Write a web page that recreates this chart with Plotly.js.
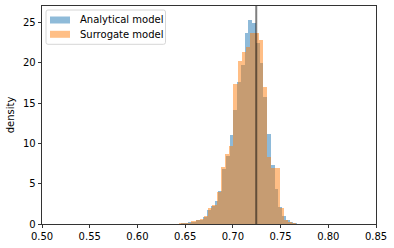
<!DOCTYPE html>
<html>
<head>
<meta charset="utf-8">
<script src="https://cdn.plot.ly/plotly-3.0.1.min.js"></script>
<style>html,body{margin:0;padding:0;background:#fff;}#chart{width:394px;height:248px;}</style>
</head>
<body>
<div id="chart"></div>
<script>
// Histogram bins (density)
const analyticalStart = 0.6455;      // left edge of first bin
const analyticalBinWidth = 0.00393;
const analyticalDensity = [0.1, 0.15, 0.2, 0.3, 0.45, 0.55, 0.9, 1.7, 2.2, 2.85,
  4.1, 6.8, 8.5, 11.1, 14.2, 17.6, 19.8, 23.7, 25.3, 24.9,
  22.5, 20.0, 15.8, 11.2, 7.3, 4.3, 2.15, 1.0, 0.45, 0.2, 0.1];

const surrogateStart = 0.64335;
const surrogateBinWidth = 0.0044;
const surrogateDensity = [0.12, 0.15, 0.17, 0.37, 0.5, 0.62, 1.0, 1.95, 2.4, 4.0,
  7.1, 8.7, 9.7, 17.4, 20.2, 21.3, 22.0, 23.7, 23.7, 22.9,
  17.0, 8.3, 6.9, 6.9, 2.0, 0.5, 0.3, 0.15];

const referenceValue = 0.7245;
const seriesNames = ['Analytical model', 'Surrogate model'];
const seriesColors = ['#1f77b4', '#ff7f0e'];
const xTicks = [0.50, 0.55, 0.60, 0.65, 0.70, 0.75, 0.80, 0.85];
const yTicks = [0, 5, 10, 15, 20, 25];

function centers(start, w, n) {
  const c = [];
  for (let i = 0; i < n; i++) c.push(start + w * (i + 0.5));
  return c;
}

const traces = [
  {
    type: 'bar', name: seriesNames[0],
    x: centers(analyticalStart, analyticalBinWidth, analyticalDensity.length),
    y: analyticalDensity, width: analyticalBinWidth,
    marker: {color: seriesColors[0], line: {width: 0}}, opacity: 0.5,
    hoverinfo: 'skip', showlegend: false
  },
  {
    type: 'bar', name: seriesNames[1],
    x: centers(surrogateStart, surrogateBinWidth, surrogateDensity.length),
    y: surrogateDensity, width: surrogateBinWidth,
    marker: {color: seriesColors[1], line: {width: 0}}, opacity: 0.5,
    hoverinfo: 'skip', showlegend: false
  }
];

// plot area in pixels: left 42, right 376, top 6, bottom 224
const W = 394, H = 248, ML = 42, MR = 18, MT = 6, MB = 24;
const PW = W - ML - MR, PH = H - MT - MB;
const px = v => (v - ML) / PW;
const py = v => (H - MB - v) / PH;

// legend drawn as a matplotlib-style box
const legendShapes = [];
const legendAnn = [];
{
  const x0 = px(46), x1 = px(165.5), y0 = py(44.3), y1 = py(10);
  const r = 2;
  const rx = r / PW, ry = r / PH;
  legendShapes.push({
    type: 'path', xref: 'paper', yref: 'paper', layer: 'above',
    path: `M ${x0 + rx} ${y1} L ${x1 - rx} ${y1} Q ${x1} ${y1} ${x1} ${y1 - ry} L ${x1} ${y0 + ry} Q ${x1} ${y0} ${x1 - rx} ${y0} L ${x0 + rx} ${y0} Q ${x0} ${y0} ${x0} ${y0 + ry} L ${x0} ${y1 - ry} Q ${x0} ${y1} ${x0 + rx} ${y1} Z`,
    fillcolor: 'rgba(255,255,255,0.8)', line: {color: '#d6d6d6', width: 1}
  });
  const rows = [20.0, 34.3];
  seriesNames.forEach((name, i) => {
    const cy = rows[i];
    legendShapes.push({
      type: 'rect', xref: 'paper', yref: 'paper', layer: 'above',
      x0: px(50), x1: px(70), y0: py(cy + 3.5), y1: py(cy - 3.5),
      fillcolor: seriesColors[i], opacity: 0.5, line: {width: 0}
    });
    legendAnn.push({
      xref: 'paper', yref: 'paper', x: px(77.5), y: py(cy),
      xanchor: 'left', yanchor: 'middle', showarrow: false,
      text: name, font: {size: 10, color: '#000'}
    });
  });
}

const axisStyle = {
  showgrid: false, zeroline: false, showline: true, mirror: true,
  linecolor: '#000', linewidth: 0.8, ticks: 'outside', ticklen: 3.5,
  tickwidth: 0.8, tickcolor: '#000', tickfont: {size: 10, color: '#000'}
};

const layout = {
  width: W, height: H,
  margin: {l: ML, r: MR, t: MT, b: MB, pad: 0},
  paper_bgcolor: '#fff', plot_bgcolor: '#fff',
  font: {family: 'DejaVu Sans, sans-serif', size: 10, color: '#000'},
  barmode: 'overlay', bargap: 0,
  xaxis: Object.assign({}, axisStyle, {
    range: [0.5, 0.85], tickvals: xTicks, tickformat: '.2f'
  }),
  yaxis: Object.assign({}, axisStyle, {
    range: [0, 27.07], tickvals: yTicks,
    title: {text: 'density', font: {size: 10}, standoff: 6}
  }),
  shapes: [{
    type: 'line', xref: 'x', yref: 'paper',
    x0: referenceValue, x1: referenceValue, y0: 0, y1: 1,
    line: {color: 'rgba(0,0,0,0.5)', width: 2}, layer: 'above'
  }].concat(legendShapes),
  annotations: legendAnn,
  showlegend: false
};

Plotly.newPlot('chart', traces, layout, {staticPlot: true, displayModeBar: false});
</script>
</body>
</html>
